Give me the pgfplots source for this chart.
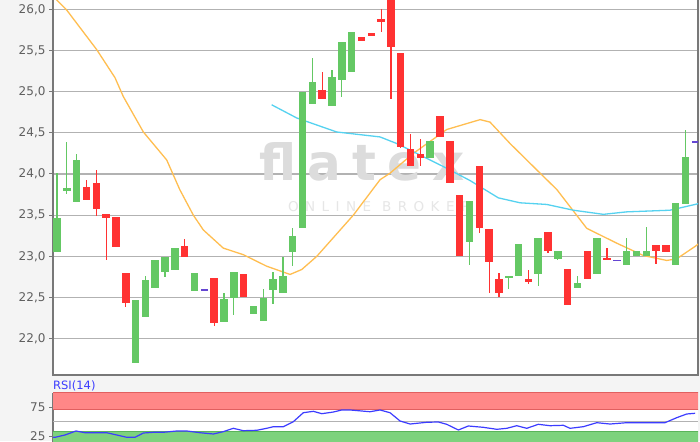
\documentclass[border=0pt]{standalone}
\usepackage{pgfplots}
\usepackage{pgfplotstable}
\pgfplotsset{compat=1.18}
\usepackage{fontspec}
\setmainfont{DejaVu Sans}
\newfontfamily\wmfont[LetterSpace=22]{DejaVu Sans}
\newfontfamily\obfont[LetterSpace=48]{DejaVu Sans}
\definecolor{bg}{RGB}{244,244,244}
\definecolor{gridc}{RGB}{178,178,178}
\definecolor{axc}{RGB}{120,120,120}
\definecolor{tickc}{RGB}{95,95,95}
\definecolor{cgreen}{RGB}{100,200,100}
\definecolor{cred}{RGB}{255,50,50}
\definecolor{cdoji}{RGB}{100,70,210}
\definecolor{corange}{RGB}{255,190,80}
\definecolor{ccyan}{RGB}{85,210,240}
\definecolor{crsi}{RGB}{60,60,255}
\definecolor{bandr}{RGB}{255,135,135}
\definecolor{bandrd}{RGB}{225,95,95}
\definecolor{bandg}{RGB}{125,210,125}
\definecolor{bandgd}{RGB}{90,180,90}
\definecolor{wm}{RGB}{220,220,220}
\definecolor{wmb}{RGB}{230,230,230}

\pgfplotstableread{
x o h l c
0 23.05 24.01 23.05 23.46
1 23.79 24.39 23.76 23.83
2 23.66 24.24 23.66 24.17
8 21.71 22.47 21.71 22.47
9 22.26 22.76 22.26 22.71
10 22.61 22.96 22.61 22.96
11 22.81 22.99 22.75 22.99
12 22.84 23.10 22.84 23.10
14 22.58 22.80 22.58 22.80
17 22.20 22.56 22.20 22.48
18 22.50 22.81 22.29 22.81
20 22.30 22.40 22.30 22.40
21 22.22 22.60 22.22 22.50
22 22.59 22.81 22.42 22.73
23 22.55 22.99 22.55 22.76
24 23.05 23.35 22.88 23.25
25 23.35 24.99 23.35 24.99
26 24.85 25.41 24.85 25.12
28 24.83 25.26 24.83 25.18
29 25.14 25.60 24.93 25.60
30 25.24 25.72 25.24 25.72
38 24.19 24.40 24.19 24.40
42 23.18 23.67 22.90 23.67
46 22.74 22.76 22.60 22.76
47 22.76 23.15 22.76 23.15
49 22.78 23.22 22.64 23.22
51 22.97 23.06 22.95 23.06
53 22.61 22.76 22.61 22.68
55 22.78 23.22 22.78 23.22
58 22.89 23.22 22.89 23.06
59 23.00 23.06 23.00 23.06
60 23.00 23.36 23.00 23.06
63 22.89 23.65 22.89 23.65
64 23.63 24.54 23.63 24.21
}\greentab

\pgfplotstableread{
x o h l c
3 23.84 23.93 23.69 23.69
4 23.89 24.05 23.49 23.57
5 23.51 23.51 22.95 23.46
6 23.48 23.48 23.11 23.11
7 22.80 22.80 22.38 22.43
13 23.12 23.21 22.99 22.99
16 22.74 22.74 22.16 22.19
19 22.78 22.78 22.51 22.51
27 25.02 25.24 24.91 24.91
31 25.66 25.66 25.62 25.62
32 25.71 25.71 25.68 25.68
33 25.88 26.00 25.72 25.85
34 26.25 26.25 24.91 25.54
35 25.47 25.47 24.31 24.33
36 24.30 24.48 24.10 24.10
37 24.24 24.43 24.10 24.20
39 24.71 24.71 24.45 24.45
40 24.40 24.40 23.89 23.89
41 23.74 23.74 23.00 23.00
43 24.10 24.10 23.28 23.35
44 23.33 23.33 22.55 22.93
45 22.73 22.80 22.51 22.55
48 22.73 22.84 22.67 22.69
50 23.29 23.29 23.04 23.06
52 22.85 22.85 22.41 22.41
54 23.06 23.06 22.72 22.72
56 22.98 23.10 22.95 22.95
61 23.14 23.14 22.91 23.06
62 23.14 23.14 23.05 23.05
}\redtab

\pgfplotstableread{
x v
15 22.59
57 22.95
65 24.39
}\dojitab

\pgfplotstableread{
x v
-0.41 26.16
0.99 25.99
4.04 25.51
5.90 25.17
6.75 24.94
8.79 24.51
11.17 24.17
12.50 23.81
13.88 23.50
14.90 23.32
16.93 23.10
18.97 23.02
21.35 22.88
23.73 22.78
24.92 22.84
26.45 23.00
30.17 23.50
32.89 23.93
33.91 24.01
36.28 24.25
39.68 24.54
43.08 24.66
44.09 24.63
46.13 24.37
49.19 24.01
50.90 23.81
53.94 23.34
56.99 23.16
59.70 23.01
62.09 22.95
63.10 22.97
64.97 23.12
65.30 23.15
}\maorange

\pgfplotstableread{
x v
21.86 24.84
24.41 24.68
28.48 24.51
32.89 24.45
34.59 24.37
36.63 24.25
39.34 24.09
42.06 23.92
44.94 23.71
47.15 23.65
49.87 23.63
52.58 23.56
55.63 23.51
58.01 23.54
62.42 23.56
64.97 23.63
65.30 23.64
}\macyan

\pgfplotstableread{
x r
-0.41 23.0
-0.20 23.1
0.81 27.1
1.93 34.0
2.85 31.0
5.06 31.0
6.08 27.1
7.10 23.1
7.94 23.1
8.79 30.5
9.81 31.7
10.82 31.7
12.19 34.0
13.21 34.0
14.56 31.0
15.92 28.8
16.93 32.8
17.95 38.6
18.97 34.5
20.34 35.2
21.35 38.6
22.03 41.4
23.04 41.4
24.06 50.0
25.08 65.5
26.10 67.9
26.96 63.8
28.14 66.7
28.99 70.2
29.84 70.2
31.87 67.2
32.89 70.2
33.91 65.5
34.93 51.2
35.95 46.0
37.65 49.0
38.83 49.5
39.68 45.5
40.87 35.7
41.88 42.6
43.41 40.3
44.78 36.9
45.80 38.6
46.81 43.1
47.83 38.6
49.01 45.5
50.20 43.1
51.56 43.8
52.24 38.6
53.59 41.4
54.96 48.3
56.31 46.0
58.01 48.3
60.39 48.3
61.91 48.3
63.10 56.9
64.12 63.3
64.97 64.5
}\rsitab

\pgfplotsset{
  candle/.style 2 args={only marks, mark=*, mark size=0.1pt,
    mark options={draw opacity=0, fill opacity=0},
    error bars/.cd, y dir=both, y explicit, error mark=none,
    error bar style={draw=#1, line width=#2}},
}

\begin{document}
\begin{tikzpicture}
\useasboundingbox (0,0) rectangle (700pt,441pt);
\fill[bg] (0,0) rectangle (700pt,441pt);

\begin{axis}[
  at={(53pt,66pt)}, anchor=south west, scale only axis,
  width=645pt, height=376pt,
  xmin=-0.41, xmax=65.27, ymin=21.559, ymax=26.125,
  axis background/.style={fill=white},
  xtick=\empty,
  ytick={22,22.5,23,23.5,24,24.5,25,25.5,26},
  ytick pos=left,
  ymajorgrids, grid style={gridc, line width=1.3pt},
  axis line style={axc, line width=1.3pt},
  tick style={axc, line width=1pt},
  tick align=outside, major tick length=4pt,
  yticklabel style={font=\fontsize{12}{12}\selectfont, text=tickc,
    /pgf/number format/.cd, fixed, fixed zerofill, precision=1, use comma, assume math mode=true},
]
\node[anchor=base west, inner sep=0, text=wm, font={\fontsize{50}{50}\wmfont\bfseries}] at (axis cs:20.6,23.92) {flatex};
\node[anchor=base west, inner sep=0, text=wmb, font={\fontsize{13.5}{13.5}\obfont}] at (axis cs:23.5,23.54) {ONLINE BROKER};

\addplot[corange, line width=1.3pt, mark=none] table[x=x, y=v] {\maorange};
\addplot[ccyan, line width=1.3pt, mark=none] table[x=x, y=v] {\macyan};

% wicks
\addplot[candle={cgreen}{1.2pt}]
  table[x=x, y expr={(\thisrow{h}+\thisrow{l})/2}, y error expr={(\thisrow{h}-\thisrow{l})/2}] {\greentab};
\addplot[candle={cred}{1.2pt}]
  table[x=x, y expr={(\thisrow{h}+\thisrow{l})/2}, y error expr={(\thisrow{h}-\thisrow{l})/2}] {\redtab};
% bodies
\addplot[candle={cgreen}{7.5pt}]
  table[x=x, y expr={(\thisrow{o}+\thisrow{c})/2}, y error expr={max(abs(\thisrow{o}-\thisrow{c})/2,0.009)}] {\greentab};
\addplot[candle={cred}{7.5pt}]
  table[x=x, y expr={(\thisrow{o}+\thisrow{c})/2}, y error expr={max(abs(\thisrow{o}-\thisrow{c})/2,0.009)}] {\redtab};
\addplot[candle={cdoji}{7.5pt}]
  table[x=x, y=v, y error expr={0.009}] {\dojitab};
\end{axis}

\node[anchor=base west, inner sep=0, text=crsi, font=\fontsize{11.5}{12}\selectfont] at (53pt,51pt) {RSI(14)};

\begin{axis}[
  at={(53pt,-1pt)}, anchor=south west, scale only axis,
  width=645pt, height=49.3pt,
  xmin=-0.41, xmax=65.27, ymin=15, ymax=100,
  axis background/.style={fill=white},
  axis x line=none, axis y line*=left,
  xtick=\empty,
  ytick={25,75},
  extra y ticks={50}, extra y tick labels={},
  extra y tick style={ymajorgrids, major tick length=0pt},
  grid style={gridc, line width=1.3pt},
  axis line style={axc, line width=1.3pt},
  tick style={axc, line width=1pt},
  tick align=outside, major tick length=4pt,
  yticklabel style={font=\fontsize{12}{12}\selectfont, text=tickc, /pgf/number format/assume math mode=true},
]
\addplot[fill=bandr, draw=bandrd, line width=1pt] coordinates {(-1,71.4) (66,71.4) (66,100) (-1,100)} -- cycle;
\addplot[fill=bandg, draw=bandgd, line width=1pt] coordinates {(-1,10) (66,10) (66,32.8) (-1,32.8)} -- cycle;
\addplot[crsi, line width=1.2pt, mark=none] table[x=x, y=r] {\rsitab};
\end{axis}
\end{tikzpicture}
\end{document}
